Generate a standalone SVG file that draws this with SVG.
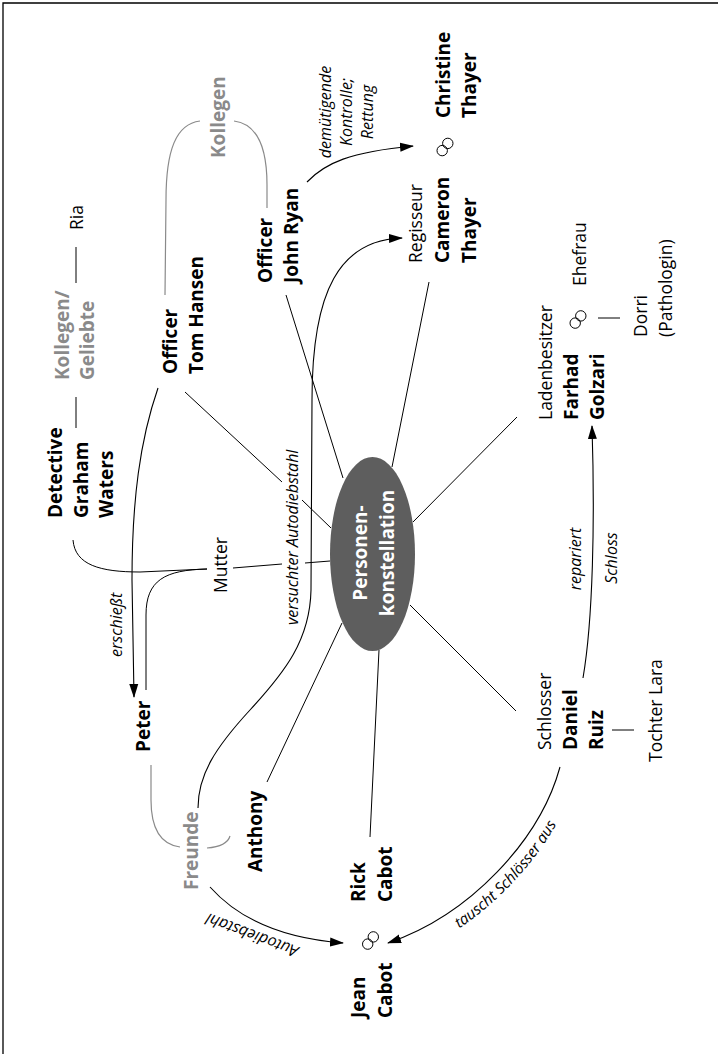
<svg xmlns="http://www.w3.org/2000/svg" width="718" height="1054" viewBox="0 0 718 1054">
<style>
text{font-family:"Open Sans","Noto Sans",sans-serif;fill:#000}
.b{font-weight:bold;font-size:19px}
.r{font-size:17.5px}
.i{font-style:italic;font-size:16px}
.g{fill:#8a8a8a}
.w{fill:#fff}
.ln{fill:none;stroke:#000;stroke-width:1}
.gl{fill:none;stroke:#8a8a8a;stroke-width:1.2}
.ar{fill:none;stroke:#000;stroke-width:1.1;marker-end:url(#ah)}
.ring{fill:none;stroke:#000;stroke-width:1}
</style>
<defs>
<marker id="ah" markerWidth="14" markerHeight="10" refX="13" refY="5" orient="auto" markerUnits="userSpaceOnUse">
<path d="M0,0.5 L14,5 L0,9.5 z" fill="#000"/>
</marker>
<path id="tp1" d="M394,962 C480,932 557,850 579,772"/>
</defs>
<rect width="718" height="1054" fill="#fff"/>
<path d="M3,1054 V3 H718" fill="none" stroke="#000" stroke-width="1.3"/>

<g id="connectors">
<path class="ln" d="M410,605 L516,711"/>
<path class="ln" d="M413,522 L517,417"/>
<path class="ln" d="M392,467 L429,282"/>
<path class="ln" d="M286,295 L343,478"/>
<path class="ln" d="M185,392 L282,482 M302,500 L331,528"/>
<path class="ln" d="M233,568 L282,564 M305,563 L330,561"/>
<path class="ln" d="M342,623 L267,782"/>
<path class="ln" d="M379,650 L370,837"/>
<path class="ln" d="M73,540 C75,565 100,572 140,572 L207,569"/>
<path class="ln" d="M207,569 C165,570 146,580 146,615 L146,690"/>
<path class="ln" d="M76,397 L76,428"/>
<path class="ln" d="M76,247 L76,283"/>
<path class="ln" d="M598,318 L620,318"/>
<path class="ln" d="M612,730 L634,730"/>
<path class="gl" d="M200,121 C176,124 166,150 166,200 L165,295"/>
<path class="gl" d="M234,121 C258,124 267,150 267,185 L267,208"/>
<path class="gl" d="M151,765 L151,800 C151,835 165,845 180,847"/>
<path class="gl" d="M207,848 C220,847 228,843 230,836"/>
<path class="ar" d="M158,388 C140,440 132,500 132,580 L134,697"/>
<path class="ar" d="M307,182 C325,163 350,152 413,146"/>
<path class="ar" d="M198,808 C198,775 215,748 250,710 C285,672 310,640 311,590 L312,400 C312,290 340,240 402,238"/>
<path class="ar" d="M583,678 C593,620 595,520 592,426"/>
<path class="ar" d="M210,887 C235,915 275,938 343,943"/>
<path class="ar" d="M560,767 C540,840 470,915 388,943"/>
<text class="i" transform="translate(122,657) rotate(-90)">erschießt</text>
<text class="i" transform="translate(298,625) rotate(-90)">versuchter Autodiebstahl</text>
<text class="i" text-anchor="middle" transform="translate(331,112) rotate(-90)">demütigende<tspan x="0" dy="21">Kontrolle;</tspan><tspan x="0" dy="21">Rettung</tspan></text>
<text class="i" text-anchor="middle" transform="translate(581,559) rotate(-90)">repariert</text>
<text class="i" text-anchor="middle" transform="translate(617,558) rotate(-90)">Schloss</text>
<text class="i" text-anchor="middle" transform="translate(254,930) rotate(200.6)">Autodiebstahl</text>
<text class="i" style="font-size:15.2px"><textPath href="#tp1" startOffset="53%" text-anchor="middle">tauscht Schlösser aus</textPath></text>
</g>

<g id="center">
<ellipse cx="372.5" cy="554" rx="42.5" ry="97" fill="#5e5e5e"/>
<text class="b w" text-anchor="middle" transform="translate(367,553) rotate(-90)">Personen-<tspan x="0" dy="27">konstellation</tspan></text>
</g>

<g id="kollegen"><text class="b g" transform="translate(225,158) rotate(-90)">Kollegen</text></g>
<g id="tom-hansen"><text class="b" transform="translate(177,374) rotate(-90)">Officer<tspan x="0" dy="26">Tom Hansen</tspan></text></g>
<g id="john-ryan"><text class="b" transform="translate(272,283) rotate(-90)">Officer<tspan x="0" dy="26">John Ryan</tspan></text></g>
<g id="kollegen-geliebte"><text class="b g" transform="translate(69,380) rotate(-90)">Kollegen/<tspan x="0" dy="25">Geliebte</tspan></text></g>
<g id="ria"><text class="r" transform="translate(83,230) rotate(-90)">Ria</text></g>
<g id="graham-waters"><text class="b" transform="translate(62,518) rotate(-90)">Detective<tspan x="0" dy="25.5">Graham</tspan><tspan x="0" dy="25.5">Waters</tspan></text></g>
<g id="mutter"><text class="r" transform="translate(227,593) rotate(-90)">Mutter</text></g>
<g id="peter"><text class="b" transform="translate(150,752) rotate(-90)">Peter</text></g>
<g id="freunde"><text class="b g" transform="translate(198,890) rotate(-90)">Freunde</text></g>
<g id="anthony"><text class="b" transform="translate(262,872) rotate(-90)">Anthony</text></g>
<g id="rick-cabot"><text class="b" transform="translate(365,902) rotate(-90)">Rick<tspan x="0" dy="26.5">Cabot</tspan></text></g>
<g id="jean-cabot"><text class="b" transform="translate(365,1018) rotate(-90)">Jean<tspan x="0" dy="26.5">Cabot</tspan></text>
<circle class="ring" cx="373.3" cy="936.9" r="5.2"/><circle class="ring" cx="367.7" cy="944.1" r="5.2"/></g>
<g id="cameron-thayer"><text class="r" transform="translate(422,263) rotate(-90)">Regisseur<tspan class="b" x="0" dy="27">Cameron</tspan><tspan class="b" x="0" dy="27">Thayer</tspan></text></g>
<g id="christine-thayer"><text class="b" transform="translate(450,118) rotate(-90)">Christine<tspan x="0" dy="26">Thayer</tspan></text>
<circle class="ring" cx="447.8" cy="143.4" r="5.2"/><circle class="ring" cx="442.2" cy="150.6" r="5.2"/></g>
<g id="farhad-golzari"><text class="r" transform="translate(552,420) rotate(-90)">Ladenbesitzer<tspan class="b" x="0" dy="26">Farhad</tspan><tspan class="b" x="0" dy="26">Golzari</tspan></text></g>
<g id="ehefrau"><text class="r" transform="translate(586,286) rotate(-90)">Ehefrau</text>
<circle class="ring" cx="580.8" cy="315.9" r="5.2"/><circle class="ring" cx="575.2" cy="323.1" r="5.2"/></g>
<g id="dorri"><text class="r" transform="translate(647,337) rotate(-90)">Dorri<tspan x="0" dy="25">(Pathologin)</tspan></text></g>
<g id="daniel-ruiz"><text class="r" transform="translate(551,750) rotate(-90)">Schlosser<tspan class="b" x="0" dy="26">Daniel</tspan><tspan class="b" x="0" dy="26">Ruiz</tspan></text></g>
<g id="tochter-lara"><text class="r" transform="translate(662,762) rotate(-90)">Tochter Lara</text></g>
</svg>
